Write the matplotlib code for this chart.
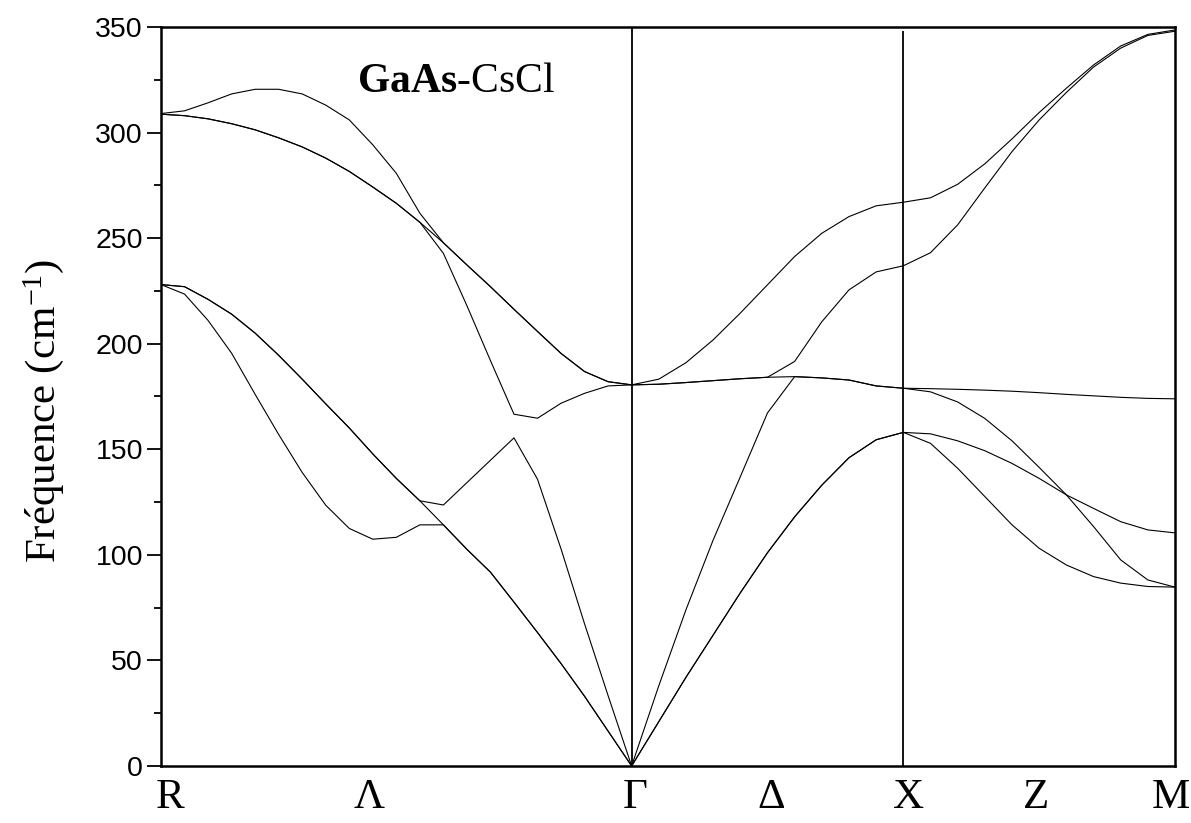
import numpy as np
import matplotlib.pyplot as plt

plt.rcParams['font.family'] = ['Liberation Sans', 'DejaVu Sans']
plt.rcParams['mathtext.fontset'] = 'custom'
plt.rcParams['mathtext.rm'] = 'Liberation Serif'
plt.rcParams['mathtext.it'] = 'Liberation Serif:italic'
plt.rcParams['mathtext.bf'] = 'Liberation Serif:bold'

# Chemin R -> Gamma -> X -> M (cubique simple, a = 1)
seg_lengths = [np.sqrt(3) / 2, 0.5, 0.5]
seg_steps = [20, 10, 10]

# Branches de phonons (cm-1), triees par frequence, 41 points le long du chemin
#        R ........................................................ Gamma ................. X .................... M
band1 = [228, 223.5, 211, 195.5, 176, 157, 139, 123.5, 112.5, 107.4, 108.3, 114.2, 114.2, 102.6, 91.8, 77.6, 63.2, 48.5, 33.0, 16.5, 0,
         21, 42, 62, 82, 101, 118, 133, 146, 154.5, 158,
         152.8, 141, 127.6, 114.2, 103.1, 95.2, 89.7, 86.6, 85, 84.7]
band2 = [228, 227, 221, 214, 205, 194.5, 183.2, 171.5, 160.1, 147.8, 136.2, 125.6, 114.2, 102.6, 91.8, 77.6, 63.2, 48.5, 33.0, 16.5, 0,
         21, 42, 62, 82, 101, 118, 133, 146, 154.5, 158,
         157.3, 154, 149.3, 143.3, 136.2, 128.4, 113.4, 97.6, 88.1, 84.7]
band3 = [228, 227, 221, 214, 205, 194.5, 183.2, 171.5, 160.1, 147.8, 136.2, 125.6, 123.6, 134.2, 144.8, 155.4, 135.8, 102.8, 67.3, 33.3, 0,
         38, 74, 107, 137, 167.2, 184.4, 183.8, 182.8, 180, 178.9,
         177.2, 172.4, 164.6, 154, 141.4, 128.4, 122, 115.7, 111.8, 110.4]
band4 = [308.7, 308, 306.5, 304.2, 301.3, 297.5, 293.2, 287.9, 281.6, 274.2, 266.5, 257.5, 242.8, 218, 192, 166.6, 164.7, 171.8, 176.5, 180, 180.5,
         180.8, 181.6, 182.5, 183.4, 184.1, 184.4, 183.8, 182.8, 180, 178.9,
         178.7, 178.4, 178, 177.5, 176.8, 176, 175.3, 174.6, 174.1, 173.9]
band5 = [308.7, 308, 306.5, 304.2, 301.3, 297.5, 293.2, 287.9, 281.6, 274.2, 266.5, 257.5, 247.8, 237.3, 227, 216.3, 205.8, 195.4, 186.8, 182, 180.5,
         180.8, 181.6, 182.5, 183.4, 184.1, 191.6, 210.4, 225.5, 234, 236.9,
         243.1, 256.3, 273.8, 291, 306, 319, 331, 340, 346, 348]
band6 = [309, 310.3, 314.1, 318.3, 320.5, 320.5, 318.3, 313, 306, 294.2, 280.7, 261.8, 247.8, 237.3, 227, 216.3, 205.8, 195.4, 186.8, 182, 180.5,
         183.2, 191, 201.8, 214.5, 227.9, 241.3, 252.3, 260.2, 265.3, 267,
         269.1, 275.5, 285.2, 297, 309.5, 321, 332, 341, 346.5, 348.6]
bands = [band1, band2, band3, band4, band5, band6]

# Etiquettes de l'axe des k
k_labels = ['R', r'$\Lambda$', r'$\Gamma$', r'$\Delta$', 'X', 'Z', 'M']
k_label_pos = [0.017, 0.383, 0.872, 1.122, 1.375, 1.610, 1.859]

# abscisses des points de calcul
k_nodes = np.concatenate([[0.0], np.cumsum(seg_lengths)])
k = [0.0]
for a, b, n in zip(k_nodes[:-1], k_nodes[1:], seg_steps):
    k.extend(np.linspace(a, b, n + 1)[1:])
k = np.array(k)

fig = plt.figure(figsize=(11.91, 8.23), dpi=100)
ax = fig.add_axes([0.1352, 0.0693, 0.8514, 0.8979])

for b in bands:
    ax.plot(k, b, color='black', lw=0.8)

ax.axvline(k_nodes[1], color='black', lw=1.3)
ax.vlines(k_nodes[2], 0, 348, color='black', lw=1.3)

ax.set_xlim(0, k_nodes[-1])
ax.set_ylim(0, 350)

ax.set_yticks(np.arange(0, 351, 50))
ax.set_yticks(np.arange(25, 350, 50), minor=True)
ax.tick_params(axis='y', which='major', direction='out', length=10, width=1.3, labelsize=20.5, pad=3)
ax.tick_params(axis='y', which='minor', direction='out', length=5, width=1.3)

ax.set_xticks(k_label_pos)
ax.set_xticklabels(k_labels, fontsize=31, family='Liberation Serif')
ax.tick_params(axis='x', length=0, pad=9)

for s in ax.spines.values():
    s.set_linewidth(1.8)

ax.set_ylabel(r'Fréquence (cm$^{\mathrm{-1}}$)', fontsize=31, family='Liberation Serif')
ax.yaxis.set_label_coords(-0.094, 0.48)

ax.text(0.193, 0.912, r'$\mathbf{GaAs}$-CsCl', transform=ax.transAxes,
        fontsize=30, family='Liberation Serif', ha='left', va='baseline')

fig.savefig('out.png', dpi=100)
